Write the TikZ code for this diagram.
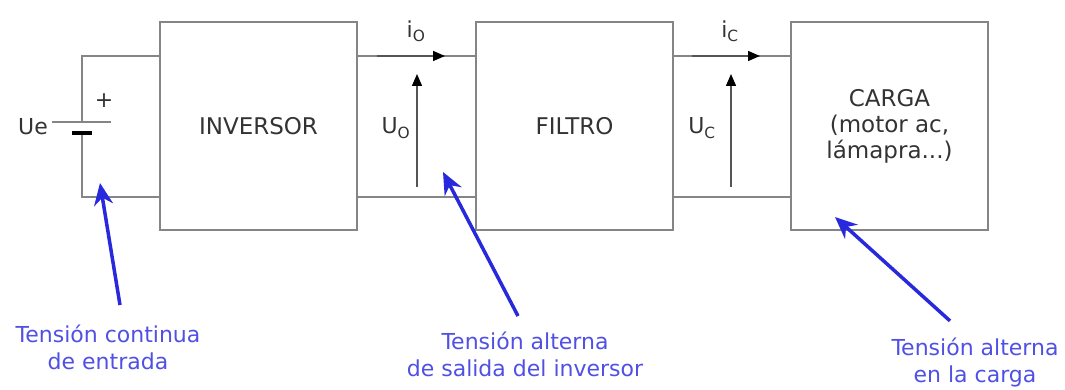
\documentclass[tikz,border=0pt]{standalone}
\usepackage{fontspec}
\setmainfont{DejaVu Sans}
\usetikzlibrary{arrows.meta,positioning}

\definecolor{wiregray}{HTML}{858585}
\definecolor{textgray}{HTML}{333333}
\definecolor{shaftgray}{HTML}{555555}
\definecolor{noteblue}{HTML}{2828DC}
\definecolor{notetext}{HTML}{5050E4}

\tikzset{
  block/.style={draw=wiregray, line width=1.3pt, minimum width=197pt,
    minimum height=208pt, text=textgray, align=center,
    font=\fontsize{23}{26}\selectfont},
  wire/.style={draw=wiregray, line width=1.2pt},
  meas/.style={shaftgray, line width=1.4pt,
    -{Triangle[length=12pt,width=10pt,color=black]}},
  label/.style={text=textgray, font=\fontsize{22}{24}\selectfont},
  note/.style={text=notetext, align=center, font=\fontsize{22}{27}\selectfont},
  pointer/.style={noteblue, line width=3.5pt, -{Stealth[length=22pt,width=19pt]}},
}

\begin{document}
\begin{tikzpicture}[x=1pt, y=-1pt]

  \useasboundingbox (0,0) rectangle (1065,390);

  % --- blocks ---
  \node[block] (inv) at (258.5,126) {INVERSOR};
  \node[block] (fil) at (574.5,126) {FILTRO};
  \node[block] (car) at (889.5,126) {CARGA\\(motor ac,\\lámapra...)};

  % --- input source ---
  \coordinate (ctop) at (82,56);
  \coordinate (cbot) at (82,197);
  \coordinate (pos) at (82,122);
  \coordinate (neg) at (82,133);

  \draw[wire] (inv.west |- ctop) -- (ctop) -- (pos);
  \draw[wire] (neg) -- (cbot) -- (inv.west |- cbot);
  \draw[wire] ([xshift=-30pt]pos) -- ([xshift=29pt]pos);
  \draw[line width=4pt] ([xshift=-10pt]neg) -- ([xshift=10pt]neg);
  \node[label] (ue) at (33,127) {Ue};
  \node[label] (plus) at (104,101) {+};

  % --- links between blocks ---
  \draw[wire] (inv.east |- ctop) -- (fil.west |- ctop);
  \draw[wire] (inv.east |- cbot) -- (fil.west |- cbot);
  \draw[wire] (fil.east |- ctop) -- (car.west |- ctop);
  \draw[wire] (fil.east |- cbot) -- (car.west |- cbot);

  % --- currents and voltages ---
  \draw[meas] (377,56) -- (445,56);
  \node[label] (io) at (416,31) {i\textsubscript{O}};
  \draw[meas] (417,187) -- (417,74);
  \node[label] (uo) at (396,128) {U\textsubscript{O}};

  \draw[meas] (692,56) -- (760,56);
  \node[label] (ic) at (730,31) {i\textsubscript{C}};
  \draw[meas] (731,187) -- (731,74);
  \node[label] (uc) at (702,128) {U\textsubscript{C}};

  % --- notes ---
  \node[note] (n1) at (108,347) {Tensión continua\\de entrada};
  \node[note] (n2) at (525,354) {Tensión alterna\\de salida del inversor};
  \node[note] (n3) at (975,362) {Tensión alterna\\en la carga};

  \coordinate (tip1) at (100,183);
  \coordinate (tip2) at (443,172);
  \coordinate (tip3) at (835,217);

  \draw[pointer] ([xshift=12pt,yshift=16pt]n1.north) -- (tip1);
  \draw[pointer] ([xshift=-7pt,yshift=12pt]n2.north) -- (tip2);
  \draw[pointer] ([xshift=-25pt,yshift=13pt]n3.north) -- (tip3);

\end{tikzpicture}
\end{document}
